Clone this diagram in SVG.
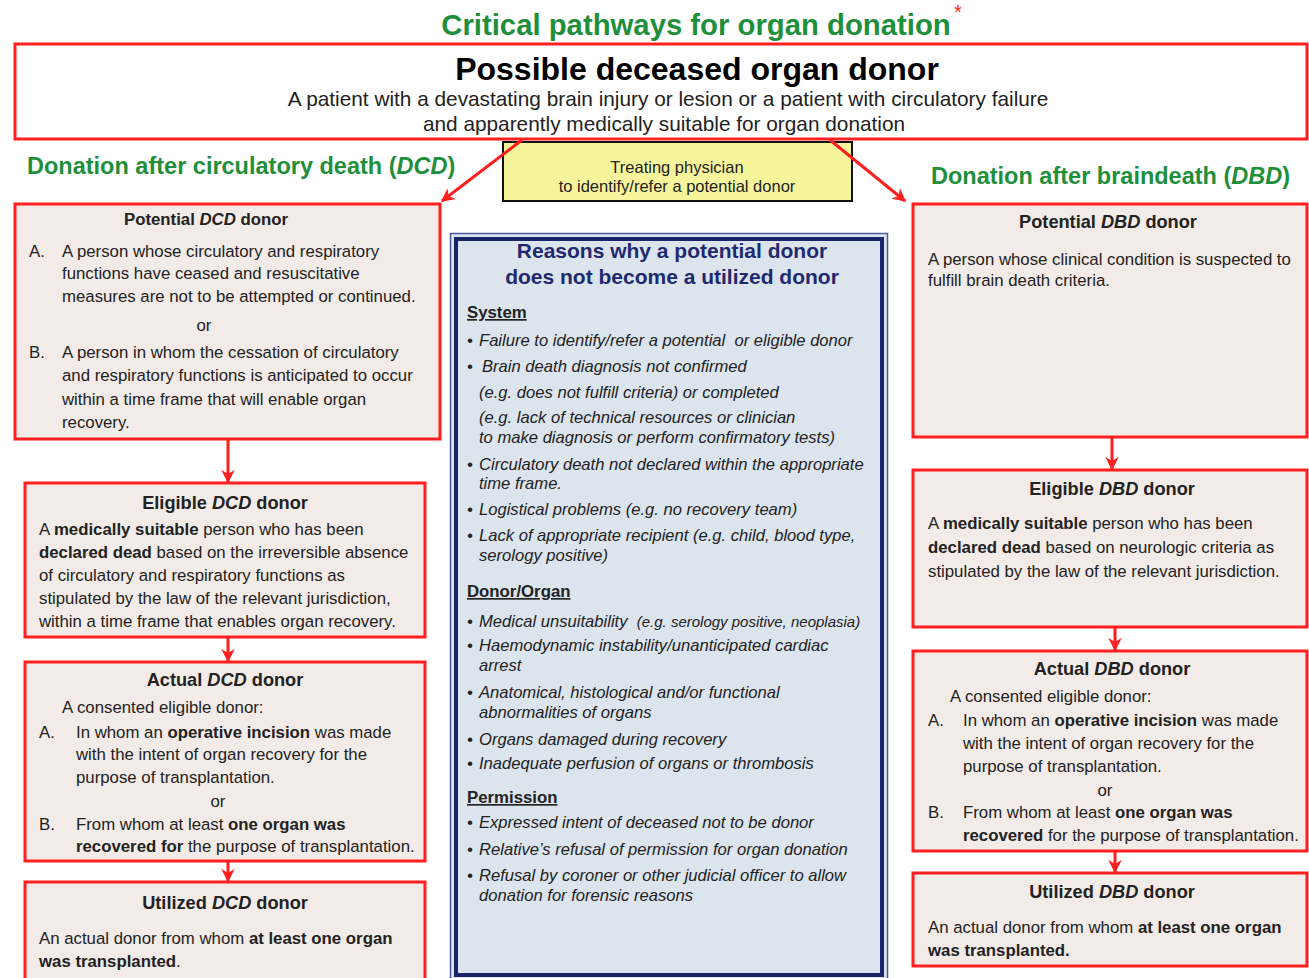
<svg xmlns="http://www.w3.org/2000/svg" width="1309" height="978" viewBox="0 0 1309 978">
<style>
text{font-family:"Liberation Sans",Arial,sans-serif;fill:#222}
.green{fill:#1f8f3c;font-weight:bold}
.box{fill:#f2ebe7;stroke:#ff1f1f;stroke-width:3}
.ttl{font-size:18.2px;font-weight:bold;text-anchor:middle}
.t{font-size:16.8px}
.c{text-anchor:middle}
.b{font-weight:bold}
.i{font-style:italic}
.r{font-size:16.6px;font-style:italic}
.h{font-size:16.8px;font-weight:bold;text-decoration:underline}
.navy{fill:#1f2a6e;font-weight:bold;font-size:21px;text-anchor:middle}
.conn{stroke:#ff1f1f;stroke-width:3;fill:none}
</style>
<defs>
<marker id="ah" viewBox="0 0 10 10" refX="9" refY="5" markerWidth="4.5" markerHeight="4.5" orient="auto" markerUnits="strokeWidth">
<path d="M0,0 L10,5 L0,10 L3,5 z" fill="#ff1f1f"/>
</marker>
</defs>
<rect width="1309" height="978" fill="#ffffff"/>

<g id="title">
<text x="696" y="35" class="green c" font-size="29.3">Critical pathways for organ donation</text>
<text x="958" y="19" style="fill:#ff1f1f" font-size="20" class="c">*</text>
</g>

<g id="possible">
<rect x="15" y="44" width="1292" height="95" fill="#ffffff" stroke="#ff1f1f" stroke-width="3"/>
<text x="697" y="80" class="c b" font-size="32" style="fill:#000">Possible deceased organ donor</text>
<text x="668" y="106" class="c" font-size="20.8">A patient with a devastating brain injury or lesion or a patient with circulatory failure</text>
<text x="664" y="131" class="c" font-size="20.8">and apparently medically suitable for organ donation</text>
</g>

<g id="heading-dcd">
<text x="27" y="174" class="green" font-size="23.5">Donation after circulatory death (<tspan font-style="italic">DCD</tspan>)</text>
</g>
<g id="heading-dbd">
<text x="931" y="184" class="green" font-size="23.5">Donation after braindeath (<tspan font-style="italic">DBD</tspan>)</text>
</g>

<g id="physician">
<rect x="503" y="142" width="349" height="59" fill="#f7f59c" stroke="#111" stroke-width="2"/>
<text x="677" y="173" class="c" font-size="16.5">Treating physician</text>
<text x="677" y="192" class="c" font-size="16.5">to identify/refer a potential donor</text>
</g>

<g id="connectors">
<line class="conn" x1="522" y1="140" x2="442" y2="201" stroke-width="4" marker-end="url(#ah)"/>
<line class="conn" x1="830" y1="140" x2="905" y2="201" stroke-width="4" marker-end="url(#ah)"/>
<line class="conn" x1="228" y1="440" x2="228" y2="482" marker-end="url(#ah)"/>
<line class="conn" x1="228" y1="638" x2="228" y2="661" marker-end="url(#ah)"/>
<line class="conn" x1="228" y1="862" x2="228" y2="881" marker-end="url(#ah)"/>
<line class="conn" x1="1112" y1="438" x2="1112" y2="469" marker-end="url(#ah)"/>
<line class="conn" x1="1115" y1="628" x2="1115" y2="650" marker-end="url(#ah)"/>
<line class="conn" x1="1115" y1="852" x2="1115" y2="872" marker-end="url(#ah)"/>
</g>

<g id="potential-dcd">
<rect class="box" x="15" y="204" width="425" height="235"/>
<text x="206" y="225" class="ttl" style="font-size:16.8px">Potential <tspan class="i">DCD</tspan> donor</text>
<text x="29" y="257" class="t">A.</text>
<text x="62" y="257" class="t">A person whose circulatory and respiratory</text>
<text x="62" y="279" class="t">functions have ceased and resuscitative</text>
<text x="62" y="302" class="t">measures are not to be attempted or continued.</text>
<text x="204" y="331" class="t c">or</text>
<text x="29" y="358" class="t">B.</text>
<text x="62" y="358" class="t">A person in whom the cessation of circulatory</text>
<text x="62" y="381" class="t">and respiratory functions is anticipated to occur</text>
<text x="62" y="405" class="t">within a time frame that will enable organ</text>
<text x="62" y="428" class="t">recovery.</text>
</g>

<g id="eligible-dcd">
<rect class="box" x="25" y="483" width="400" height="154"/>
<text x="225" y="509" class="ttl">Eligible <tspan class="i">DCD</tspan> donor</text>
<text x="39" y="535" class="t">A <tspan class="b">medically suitable</tspan> person who has been</text>
<text x="39" y="558" class="t"><tspan class="b">declared dead</tspan> based on the irreversible absence</text>
<text x="39" y="581" class="t">of circulatory and respiratory functions as</text>
<text x="39" y="604" class="t">stipulated by the law of the relevant jurisdiction,</text>
<text x="39" y="627" class="t">within a time frame that enables organ recovery.</text>
</g>

<g id="actual-dcd">
<rect class="box" x="25" y="662" width="400" height="199"/>
<text x="225" y="686" class="ttl">Actual <tspan class="i">DCD</tspan> donor</text>
<text x="62" y="713" class="t">A consented eligible donor:</text>
<text x="39" y="738" class="t">A.</text>
<text x="76" y="738" class="t">In whom an <tspan class="b">operative incision</tspan> was made</text>
<text x="76" y="760" class="t">with the intent of organ recovery for the</text>
<text x="76" y="783" class="t">purpose of transplantation.</text>
<text x="218" y="807" class="t c">or</text>
<text x="39" y="830" class="t">B.</text>
<text x="76" y="830" class="t">From whom at least <tspan class="b">one organ was</tspan></text>
<text x="76" y="852" class="t"><tspan class="b">recovered for</tspan> the purpose of transplantation.</text>
</g>

<g id="utilized-dcd">
<rect class="box" x="25" y="882" width="400" height="100"/>
<text x="225" y="909" class="ttl">Utilized <tspan class="i">DCD</tspan> donor</text>
<text x="39" y="944" class="t">An actual donor from whom <tspan class="b">at least one organ</tspan></text>
<text x="39" y="967" class="t"><tspan class="b">was transplanted</tspan>.</text>
</g>

<g id="reasons">
<rect x="450.5" y="233.5" width="437" height="750" fill="#dce4ee" stroke="#4a5a9a" stroke-width="1.5"/>
<rect x="456" y="239" width="426" height="736" fill="#dce4ee" stroke="#1a2468" stroke-width="4"/>
<text x="672" y="258" class="navy">Reasons why a potential donor</text>
<text x="672" y="284" class="navy">does not become a utilized donor</text>
<text x="467" y="318" class="h">System</text>
<text x="467" y="346" class="r">•</text><text x="479" y="346" class="r" xml:space="preserve">Failure to identify/refer a potential  or eligible donor</text>
<text x="467" y="372" class="r">•</text><text x="482" y="372" class="r">Brain death diagnosis not confirmed</text>
<text x="479" y="398" class="r">(e.g. does not fulfill criteria) or completed</text>
<text x="479" y="423" class="r">(e.g. lack of technical resources or clinician</text>
<text x="479" y="443" class="r">to make diagnosis or perform confirmatory tests)</text>
<text x="467" y="470" class="r">•</text><text x="479" y="470" class="r">Circulatory death not declared within the appropriate</text>
<text x="479" y="489" class="r">time frame.</text>
<text x="467" y="515" class="r">•</text><text x="479" y="515" class="r">Logistical problems (e.g. no recovery team)</text>
<text x="467" y="541" class="r">•</text><text x="479" y="541" class="r">Lack of appropriate recipient (e.g. child, blood type,</text>
<text x="479" y="561" class="r">serology positive)</text>
<text x="467" y="597" class="h">Donor/Organ</text>
<text x="467" y="627" class="r">•</text><text x="479" y="627" class="r" xml:space="preserve">Medical unsuitability  <tspan font-size="15">(e.g. serology positive, neoplasia)</tspan></text>
<text x="467" y="651" class="r">•</text><text x="479" y="651" class="r">Haemodynamic instability/unanticipated cardiac</text>
<text x="479" y="671" class="r">arrest</text>
<text x="467" y="698" class="r">•</text><text x="479" y="698" class="r">Anatomical, histological and/or functional</text>
<text x="479" y="718" class="r">abnormalities of organs</text>
<text x="467" y="745" class="r">•</text><text x="479" y="745" class="r">Organs damaged during recovery</text>
<text x="467" y="769" class="r">•</text><text x="479" y="769" class="r">Inadequate perfusion of organs or thrombosis</text>
<text x="467" y="803" class="h">Permission</text>
<text x="467" y="828" class="r">•</text><text x="479" y="828" class="r">Expressed intent of deceased not to be donor</text>
<text x="467" y="855" class="r">•</text><text x="479" y="855" class="r">Relative’s refusal of permission for organ donation</text>
<text x="467" y="881" class="r">•</text><text x="479" y="881" class="r">Refusal by coroner or other judicial officer to allow</text>
<text x="479" y="901" class="r">donation for forensic reasons</text>
</g>

<g id="potential-dbd">
<rect class="box" x="913" y="204" width="394" height="233"/>
<text x="1108" y="228" class="ttl">Potential <tspan class="i">DBD</tspan> donor</text>
<text x="928" y="265" class="t">A person whose clinical condition is suspected to</text>
<text x="928" y="286" class="t">fulfill brain death criteria.</text>
</g>

<g id="eligible-dbd">
<rect class="box" x="913" y="470" width="394" height="157"/>
<text x="1112" y="495" class="ttl">Eligible <tspan class="i">DBD</tspan> donor</text>
<text x="928" y="529" class="t">A <tspan class="b">medically suitable</tspan> person who has been</text>
<text x="928" y="553" class="t"><tspan class="b">declared dead</tspan> based on neurologic criteria as</text>
<text x="928" y="577" class="t">stipulated by the law of the relevant jurisdiction.</text>
</g>

<g id="actual-dbd">
<rect class="box" x="913" y="651" width="394" height="200"/>
<text x="1112" y="675" class="ttl">Actual <tspan class="i">DBD</tspan> donor</text>
<text x="950" y="702" class="t">A consented eligible donor:</text>
<text x="928" y="726" class="t">A.</text>
<text x="963" y="726" class="t">In whom an <tspan class="b">operative incision</tspan> was made</text>
<text x="963" y="749" class="t">with the intent of organ recovery for the</text>
<text x="963" y="772" class="t">purpose of transplantation.</text>
<text x="1105" y="796" class="t c">or</text>
<text x="928" y="818" class="t">B.</text>
<text x="963" y="818" class="t">From whom at least <tspan class="b">one organ was</tspan></text>
<text x="963" y="841" class="t"><tspan class="b">recovered</tspan> for the purpose of transplantation.</text>
</g>

<g id="utilized-dbd">
<rect class="box" x="913" y="873" width="394" height="93"/>
<text x="1112" y="898" class="ttl">Utilized <tspan class="i">DBD</tspan> donor</text>
<text x="928" y="933" class="t">An actual donor from whom <tspan class="b">at least one organ</tspan></text>
<text x="928" y="956" class="t"><tspan class="b">was transplanted.</tspan></text>
</g>
</svg>
